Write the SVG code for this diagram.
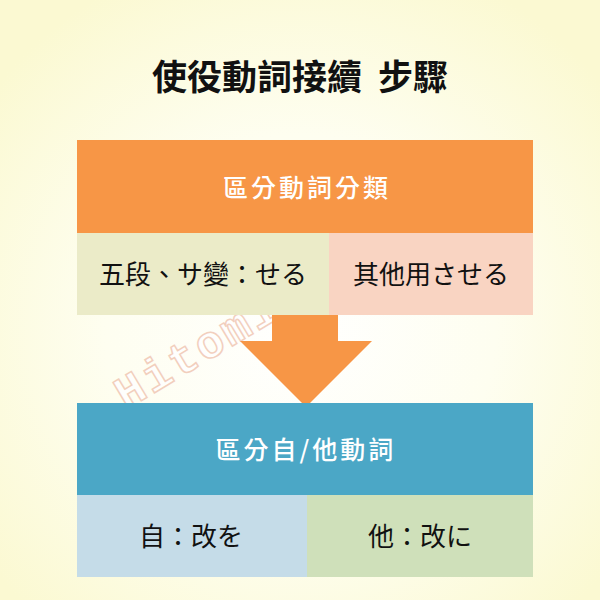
<svg xmlns="http://www.w3.org/2000/svg" width="600" height="600" viewBox="0 0 600 600">
<defs>
<radialGradient id="bg" cx="50%" cy="55%" r="65%">
<stop offset="0" stop-color="#FFFFFF"/>
<stop offset="0.5" stop-color="#FEFEF0"/>
<stop offset="1" stop-color="#FBF9D2"/>
</radialGradient>
<style>
.t{font-family:"Noto Sans CJK TC","Noto Sans CJK JP",sans-serif;text-anchor:middle}
.title{font-size:35px;font-weight:700;fill:#111}
.head{font-size:25px;font-weight:500;fill:#fff;letter-spacing:3px}
.cell{font-size:26px;font-weight:400;fill:#111}
.wm{font-family:"Liberation Mono",monospace;font-size:46px;font-weight:700;fill:#FFFFFF;stroke:#F0C4B0;stroke-width:1.5;opacity:0.8}
</style>
</defs>
<rect width="600" height="600" fill="url(#bg)"/>
<text class="wm" x="126" y="410" transform="rotate(-31 126 410)" letter-spacing="3">Hitomi</text>
<text class="t title" x="300" y="90" xml:space="preserve">使役動詞接續  步驟</text>
<g id="step1">
<rect x="77" y="140" width="456" height="93" fill="#F79646"/>
<text class="t head" x="307" y="197">區分動詞分類</text>
</g>
<g id="godan">
<rect x="77" y="233" width="252" height="82" fill="#EBEBC8"/>
<text class="t cell" x="203" y="284">五段、サ變：せる</text>
</g>
<g id="other">
<rect x="329" y="233" width="204" height="82" fill="#F9D4C2"/>
<text class="t cell" x="431" y="284">其他用させる</text>
</g>
<g id="connectors">
<polygon points="272,315 338,315 338,341 372,341 306,407 240,341 272,341" fill="#F79646"/>
</g>
<g id="step2">
<rect x="77" y="403" width="456" height="92" fill="#4BA7C6"/>
<text class="t head" x="306" y="459">區分自/他動詞</text>
</g>
<g id="intrans">
<rect x="77" y="495" width="230" height="82" fill="#C5DCE8"/>
<text class="t cell" x="191" y="546">自：改を</text>
</g>
<g id="trans">
<rect x="307" y="495" width="226" height="82" fill="#CFE0BA"/>
<text class="t cell" x="420" y="546">他：改に</text>
</g>
</svg>
